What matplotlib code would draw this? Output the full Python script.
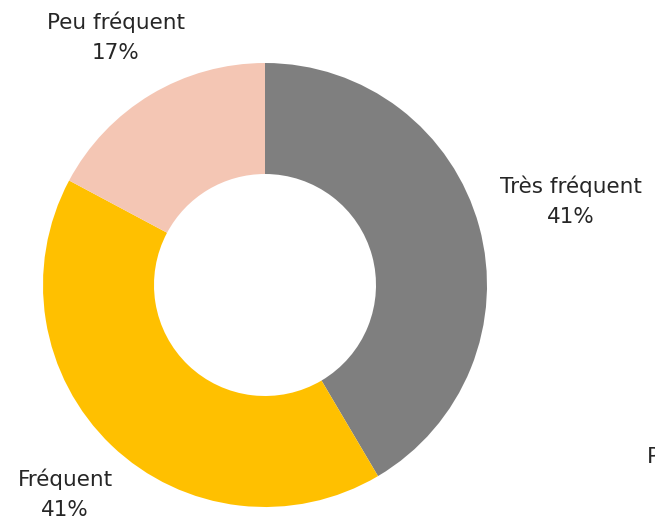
import matplotlib.pyplot as plt

categories = ["Très fréquent", "Fréquent", "Peu fréquent"]
values = [41.5, 41.3, 17.2]
pct_labels = ["41%", "41%", "17%"]
colors = ["#7F7F7F", "#FFC000", "#F4C6B4"]

plt.rcParams['font.family'] = ['DejaVu Sans']

W, H = 655, 517
fig = plt.figure(figsize=(W / 100, H / 100), dpi=100)
ax = fig.add_axes([0, 0, 1, 1])

cx, cy, R = 265, H - 285, 222
ax.pie(values, colors=colors, startangle=90, counterclock=False,
       center=(cx, cy), radius=R, frame=True,
       wedgeprops=dict(width=R * 0.5, linewidth=0))
ax.set_xlim(0, W)
ax.set_ylim(0, H)
ax.set_aspect('equal')
ax.axis('off')

# label positions in pixel coords (x centre, y of first line)
label_pos = [(571, 186), (65, 479), (116, 22)]
for (x, y), cat, pct in zip(label_pos, categories, pct_labels):
    ax.text(x, H - y, cat, ha='center', va='center', fontsize=15.5, color='#262626')
    ax.text(x, H - y - 31, pct, ha='center', va='center', fontsize=15.5, color='#262626')

# label of a fourth category, cut off by the right edge as in the source
ax.text(647, H - 456, "Pas du tout fréquent", ha='left', va='center',
        fontsize=15.5, color='#262626', clip_on=False)

fig.savefig("out.png", dpi=100, facecolor='white')
